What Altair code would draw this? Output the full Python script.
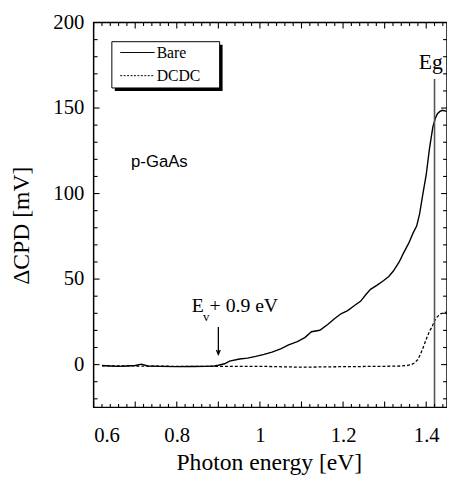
import altair as alt
import pandas as pd

# ---- data ----
bare_e = [0.62, 0.64, 0.66, 0.68, 0.70, 0.715, 0.73, 0.76, 0.80, 0.84, 0.87, 0.89, 0.90,
          0.915, 0.927, 0.951, 0.97, 0.990, 1.010, 1.029, 1.050, 1.069, 1.090, 1.108, 1.124,
          1.144, 1.163, 1.180, 1.195, 1.211, 1.230, 1.242, 1.255, 1.266, 1.282, 1.297,
          1.310, 1.321, 1.335, 1.345, 1.358, 1.368, 1.377, 1.384, 1.392, 1.400, 1.408,
          1.416, 1.422, 1.427, 1.433, 1.439, 1.449]
bare_v = [-0.5, -0.8, -1.0, -0.8, -0.5, 0.3, -0.8, -1.0, -1.2, -1.1, -1.0, -0.8, -0.4,
          0.5, 2.0, 3.3, 3.8, 4.8, 6.0, 7.3, 9.2, 11.5, 13.5, 15.8, 19.2,
          20.1, 23.4, 27.0, 29.7, 31.6, 35.0, 37.0, 41.0, 44.0, 46.5, 49.0,
          51.5, 54.7, 60.0, 65.0, 71.0, 76.7, 81.0, 88.0, 99.8, 111.0, 126.6,
          139.0, 144.0, 146.7, 148.0, 148.7, 148.0]

dcdc_e = [0.62, 0.70, 0.80, 0.90, 1.00, 1.10, 1.20, 1.30, 1.34, 1.355, 1.364, 1.372,
          1.380, 1.386, 1.392, 1.398, 1.404, 1.409, 1.414, 1.418, 1.423, 1.429, 1.435, 1.442, 1.449]
dcdc_v = [-0.8, -0.8, -1.0, -1.0, -1.0, -1.5, -1.2, -1.0, -0.8, -0.5, 0.0, 1.0,
          3.0, 6.0, 9.6, 13.5, 17.3, 20.0, 22.0, 24.5, 27.0, 28.5, 29.7, 30.3, 30.7]

x_label_values = [0.6, 0.8, 1.0, 1.2, 1.4]
y_label_values = [0, 50, 100, 150, 200]
x_major_ticks = [0.6, 0.7, 0.8, 0.9, 1.0, 1.1, 1.2, 1.3, 1.4]
x_minor_ticks = [round(0.6 + 0.02 * i, 2) for i in range(43) if i % 5 != 0]
y_major_ticks = [0, 50, 100, 150]
y_minor_ticks = [v for v in range(-20, 200, 10) if v % 50 != 0]

eg_energy = [1.42]
eg_top = [167]
eg_bottom = [-25]

W, H = 359, 391
SERIF = "Liberation Serif"
SANS = "Liberation Sans"

xs = alt.Scale(domain=[0.6, 1.45], nice=False, zero=False)
ys = alt.Scale(domain=[-25, 200], nice=False, zero=False)

bare = pd.DataFrame({"e": bare_e, "v": bare_v})
dcdc = pd.DataFrame({"e": dcdc_e, "v": dcdc_v})

x_axis = alt.Axis(values=x_label_values, format=".1~f", title="Photon energy [eV]",
                  labelFont=SERIF, labelFontSize=21, labelColor="black",
                  labelBaseline="alphabetic", labelPadding=35, ticks=False, domain=False,
                  grid=False, tickSize=0,
                  titleFont=SERIF, titleFontSize=24, titleFontWeight="normal", titleColor="black",
                  titleX=178, titleY=63, titleBaseline="alphabetic", titleAlign="center")
y_axis = alt.Axis(values=y_label_values, format="d", title="ΔCPD [mV]",
                  labelFont=SERIF, labelFontSize=21, labelColor="black",
                  labelPadding=10, ticks=False, domain=False, grid=False, tickSize=0,
                  labelBaseline="middle",
                  titleFont=SERIF, titleFontSize=24, titleFontWeight="normal", titleColor="black",
                  titleX=-73, titleY=206, titleAngle=270, titleAlign="center",
                  titleBaseline="middle")


def X(field):
    return alt.X(field, type="quantitative", scale=xs, axis=x_axis)


def Y(field):
    return alt.Y(field, type="quantitative", scale=ys, axis=y_axis)


bare_line = alt.Chart(bare).mark_line(color="black", strokeWidth=1.4, clip=True).encode(
    x=X("e"), y=Y("v"))
dcdc_line = alt.Chart(dcdc).mark_line(color="black", strokeWidth=1.3, strokeDash=[3, 2],
                                      clip=True).encode(x=X("e"), y=Y("v"))

eg_df = pd.DataFrame({"e": eg_energy, "v": eg_top, "v2": eg_bottom})
eg_rule = alt.Chart(eg_df).mark_rule(color="#555555", strokeWidth=1.6).encode(
    x=X("e"), y=Y("v"), y2="v2:Q")


# ---- ticks (inward, all four sides) ----
def xticks(vals, length, bottom=True):
    df = pd.DataFrame({"e": vals})
    y1, y2 = (H, H - length) if bottom else (0, length)
    return alt.Chart(df).mark_rule(color="black", strokeWidth=1.1).encode(
        x=X("e"), y=alt.value(y1), y2=alt.value(y2))


def yticks(vals, length, left=True):
    df = pd.DataFrame({"v": vals})
    x1, x2 = (0, length) if left else (W, W - length)
    return alt.Chart(df).mark_rule(color="black", strokeWidth=1.1).encode(
        y=Y("v"), x=alt.value(x1), x2=alt.value(x2))


ticks = [
    xticks(x_major_ticks, 6, True), xticks(x_minor_ticks, 3.5, True),
    xticks(x_major_ticks, 6, False), xticks(x_minor_ticks, 3.5, False),
    yticks(y_major_ticks, 6, True), yticks(y_minor_ticks, 4, True),
    yticks(y_major_ticks, 6, False), yticks(y_minor_ticks, 4, False),
]


# ---- annotations ----
def text(df, **kw):
    return alt.Chart(df).mark_text(color="black", **kw).encode(
        x=X("e"), y=Y("v"), text="t:N")


eg_text = text(pd.DataFrame({"e": [1.411], "v": [172.6], "t": ["Eg"]}),
               font=SERIF, fontSize=22, align="center", baseline="alphabetic")
gaas_text = text(pd.DataFrame({"e": [0.69], "v": [115.6], "t": ["p-GaAs"]}),
                 font=SANS, fontSize=17, align="left", baseline="alphabetic")
ev_text = text(pd.DataFrame({"e": [0.836], "v": [30.8], "t": ["E"]}),
               font=SERIF, fontSize=20, align="left", baseline="alphabetic")
ev_sub = text(pd.DataFrame({"e": [0.863], "v": [25.5], "t": ["v"]}),
              font=SERIF, fontSize=13, align="left", baseline="alphabetic")
ev_rest = text(pd.DataFrame({"e": [0.879], "v": [30.8], "t": ["+ 0.9 eV"]}),
               font=SERIF, fontSize=20, align="left", baseline="alphabetic")

arrow_df = pd.DataFrame({"e": [0.9], "v": [22.0], "v2": [6.0]})
arrow_shaft = alt.Chart(arrow_df).mark_rule(color="black", strokeWidth=1.3).encode(
    x=X("e"), y=Y("v"), y2="v2:Q")
arrow_head = alt.Chart(arrow_df).mark_point(
    shape="M-0.7,-1.6L0,0L0.7,-1.6", filled=False, color="black", strokeWidth=1.3,
    size=30, opacity=1).encode(x=X("e"), y=Y("v2"))

# ---- legend box (drawn by hand) ----
lg = pd.DataFrame({"k": [0]})
shadow = alt.Chart(lg).mark_rect(color="black").encode(
    x=alt.value(21.5), x2=alt.value(131), y=alt.value(22.5), y2=alt.value(69.5))
box = alt.Chart(lg).mark_rect(fill="white", stroke="black", strokeWidth=1).encode(
    x=alt.value(18.5), x2=alt.value(128), y=alt.value(19.5), y2=alt.value(66.5))
leg_bare = alt.Chart(lg).mark_rule(color="black", strokeWidth=1).encode(
    x=alt.value(27), x2=alt.value(62), y=alt.value(30.5))
leg_dcdc = alt.Chart(lg).mark_rule(color="black", strokeWidth=1, strokeDash=[2, 1.5]).encode(
    x=alt.value(27), x2=alt.value(62), y=alt.value(54))
leg_t1 = alt.Chart(lg).mark_text(font=SERIF, fontSize=16, align="left", baseline="middle",
                                 color="black", text="Bare").encode(
    x=alt.value(64), y=alt.value(31))
leg_t2 = alt.Chart(lg).mark_text(font=SERIF, fontSize=16, align="left", baseline="middle",
                                 color="black", text="DCDC").encode(
    x=alt.value(64), y=alt.value(54.5))

chart = alt.layer(
    bare_line, dcdc_line, eg_rule, *ticks,
    eg_text, gaas_text, ev_text, ev_sub, ev_rest, arrow_shaft, arrow_head,
    shadow, box, leg_bare, leg_dcdc, leg_t1, leg_t2,
).properties(
    width=W, height=H,
    autosize=alt.AutoSizeParams(type="none"),
    padding={"left": 87, "top": 11, "right": 0, "bottom": 67},
).configure_view(stroke="black", strokeWidth=1.5)

chart.save("out.html", embed_options={"renderer": "svg", "actions": False})
